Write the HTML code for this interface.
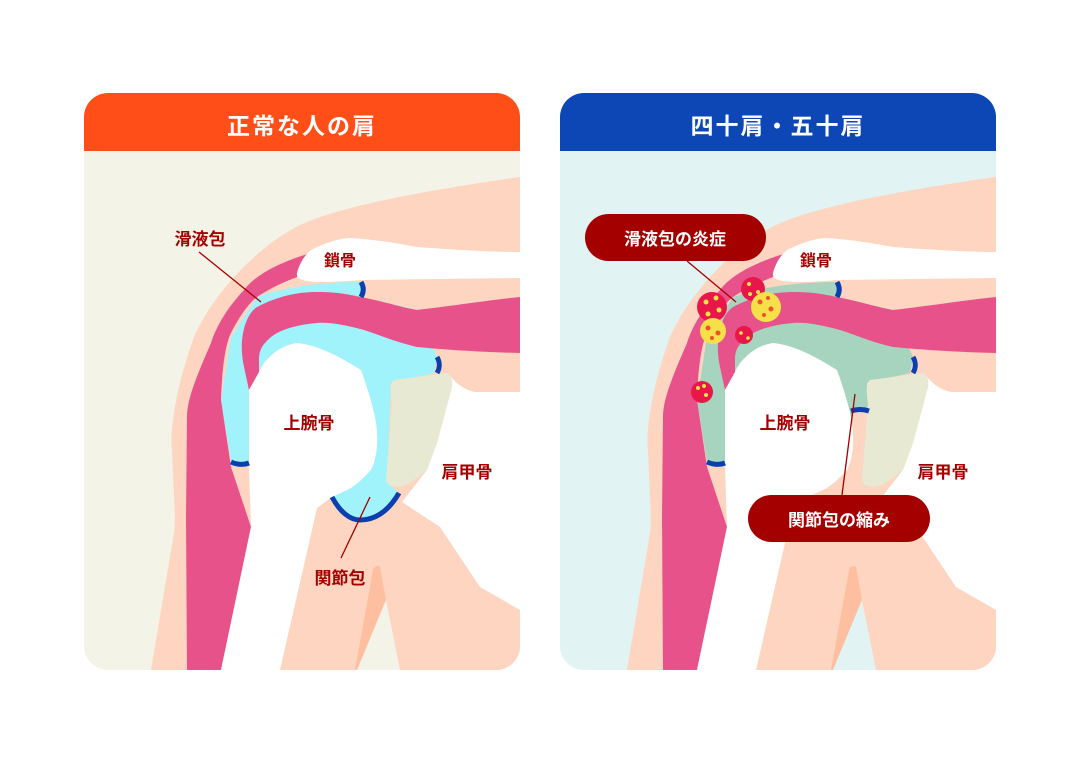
<!DOCTYPE html>
<html><head><meta charset="utf-8"><style>
html,body{margin:0;padding:0;background:#fff;}
svg{display:block;}
text{font-family:"Liberation Sans","Noto Sans CJK JP",sans-serif;font-weight:bold;}
</style></head><body>
<svg width="1080" height="764" viewBox="0 0 1080 764" xmlns="http://www.w3.org/2000/svg">
<defs>
<clipPath id="cp"><rect x="84" y="93" width="436" height="577" rx="24"/></clipPath>
<g id="base">
  <path d="M519,177 C430,190 344,205 300,225 C260,245 215,290 194,337 C175,390 170,430 172,450 C174,500 176,520 174,533 L151,670 L520,670 L520,177 Z" fill="#FDD5C0"/>
</g>
<g id="over">
  <path d="M311,253 C280,262 255,275 244,290 C225,310 215,330 211,343 C195,380 187,400 187,417 L186,517 L187,670 L221,670 L251,527 L231,467 L221,400 C222,370 225,345 231,333 C240,315 250,302 257,297 C275,285 290,280 297,277 Z" fill="#E8528A"/>
  <path d="M244,367 C238,340 245,315 257,307 C280,295 300,292 317,292 C340,292 350,295 361,297 C390,303 400,307 417,310 C460,305 490,300 520,297 L520,353 C480,352 450,350 417,347 C395,342 380,335 364,330 C345,325 330,322 317,323 C295,325 280,330 271,337 C262,345 259,350 259,360 L259,373 L249,390 Z" fill="#E8528A"/>
  <path d="M297,273 C300,262 305,255 311,250 C325,243 340,238 351,238 C380,240 400,244 417,247 C460,250 490,252 520,252 L520,278 L361,280 C340,282 325,282 317,282 C300,281 296,278 297,273 Z" fill="#fff"/>
  <path d="M264,363 C275,350 285,345 297,343 C320,345 345,360 361,370 C370,395 377,420 377,433 C378,450 375,462 371,470 C360,482 352,488 347,490 L332,497 L317,510 L284,670 L221,670 L251,527 L249,467 L249,390 Z" fill="#fff"/>
  <path d="M317,508 L332,497 C345,515 355,520 357,520 C375,520 390,508 402,502 L440,527 L480,587 L520,610 L520,670 L280,670 Z" fill="#FDD5C0"/>
  <path d="M373,570 C374,566 379,565 380,567 L386,600 L357,670 L355,670 Z" fill="#FDBFA0"/>
  <path class="gap" d="M386,600 L400,670 L357,670 Z"/>
  <path d="M451,377 C458,385 465,390 475,392 L520,392 L520,610 L480,587 L440,527 L402,502 L427,470 L437,443 L452,387 Z" fill="#fff"/>
  <path d="M394,380 L447,373 C452,375 453,382 452,387 L437,443 L427,470 C415,480 405,487 397,487 C388,486 386,482 386,480 L392,403 C390,390 390,383 394,380 Z" fill="#E8E9D2"/>
  <g stroke="#0B3FB0" stroke-width="5" fill="none">
    <path d="M361,282 C364,287 364,292 361,297"/>
    <path d="M437,357 C440,362 440,368 437,373"/>
    <path d="M231,462 C238,465 244,465 249,463"/>
  </g>
  <text x="340" y="266" font-size="16" fill="#A50000" text-anchor="middle">鎖骨</text>
  <text x="309" y="429" font-size="17" fill="#A50000" text-anchor="middle">上腕骨</text>
  <text x="467" y="478" font-size="17" fill="#A50000" text-anchor="middle">肩甲骨</text>
</g>
</defs>

<!-- Left panel -->
<g clip-path="url(#cp)" style="fill:#F3F3E7">
  <rect x="84" y="93" width="436" height="577" fill="#F3F3E7"/>
  <use href="#base"/>
  <path d="M257,297 C290,285 330,282 361,282 L361,297 L417,310 L437,357 L434,373 L391,383 L387,483 L399,493 C390,510 370,520 357,520 C345,518 335,505 332,497 L347,490 L371,470 L377,433 L361,370 L297,343 L261,367 L249,390 L249,462 L231,462 L221,400 L231,337 Z" fill="#A0F3FA"/>
  <use href="#over"/>
  <path d="M332,497 C340,512 350,520 360,520 C380,520 392,505 399,493" stroke="#0B3FB0" stroke-width="5" fill="none"/>
  <rect x="84" y="93" width="436" height="58" fill="#FF4E17"/>
  <text x="302" y="134" font-size="23" fill="#fff" text-anchor="middle" letter-spacing="2">正常な人の肩</text>
  <line x1="199" y1="252" x2="261" y2="302" stroke="#A50000" stroke-width="1.3"/>
  <text x="200" y="245" font-size="17" fill="#A50000" text-anchor="middle">滑液包</text>
  <line x1="370" y1="497" x2="341" y2="558" stroke="#A50000" stroke-width="1.3"/>
  <text x="340" y="584" font-size="17" fill="#A50000" text-anchor="middle">関節包</text>
</g>

<!-- Right panel -->
<g transform="translate(476,0)">
<g clip-path="url(#cp)" style="fill:#E1F3F3">
  <rect x="84" y="93" width="436" height="577" fill="#E1F3F3"/>
  <use href="#base"/>
  <path d="M257,297 C290,285 330,282 361,282 L361,297 L417,310 L437,357 L434,373 L391,383 L392,412 L376,412 L377,433 L361,370 L297,343 L261,367 L249,390 L249,462 L231,462 L221,400 L231,337 Z" fill="#A7D4BF"/>
  <use href="#over"/>
  <path d="M375,411 C381,409 387,409 393,411" stroke="#0B3FB0" stroke-width="5" fill="none"/>
  <rect x="84" y="93" width="436" height="58" fill="#0D47B5"/>
  <text x="302" y="134" font-size="23" fill="#fff" text-anchor="middle" letter-spacing="2">四十肩・五十肩</text>
</g>
</g>
<g>
  <g fill="#E8174A">
    <circle cx="712" cy="307" r="15"/>
    <circle cx="753" cy="289" r="12"/>
    <circle cx="744" cy="335" r="9"/>
    <circle cx="702" cy="392" r="11"/>
  </g>
  <g fill="#F5E04A">
    <circle cx="713" cy="331" r="13"/>
    <circle cx="766" cy="307" r="15"/>
  </g>
  <g fill="#F5E04A">
    <circle cx="706" cy="302" r="2.5"/><circle cx="716" cy="298" r="2.5"/><circle cx="719" cy="310" r="2.5"/><circle cx="708" cy="314" r="2.5"/>
    <circle cx="749" cy="284" r="2"/><circle cx="758" cy="292" r="2"/><circle cx="750" cy="294" r="2"/>
    <circle cx="741" cy="333" r="1.8"/><circle cx="748" cy="338" r="1.8"/>
    <circle cx="698" cy="388" r="2"/><circle cx="706" cy="395" r="2"/><circle cx="704" cy="386" r="2"/>
  </g>
  <g fill="#F0502A">
    <circle cx="708" cy="328" r="2.5"/><circle cx="718" cy="333" r="2.5"/><circle cx="712" cy="338" r="2"/>
    <circle cx="760" cy="302" r="2.5"/><circle cx="771" cy="309" r="2.5"/><circle cx="764" cy="315" r="2"/><circle cx="768" cy="298" r="2"/>
  </g>
  <line x1="687" y1="261" x2="736" y2="302" stroke="#A50000" stroke-width="1.3"/>
  <rect x="585" y="214" width="181" height="47" rx="23.5" fill="#A50000"/>
  <text x="675" y="245" font-size="17" fill="#fff" text-anchor="middle">滑液包の炎症</text>
  <line x1="855" y1="394" x2="842" y2="495" stroke="#A50000" stroke-width="1.3"/>
  <rect x="748" y="495" width="182" height="47" rx="23.5" fill="#A50000"/>
  <text x="839" y="526" font-size="17" fill="#fff" text-anchor="middle">関節包の縮み</text>
</g>
</svg>
</body></html>
